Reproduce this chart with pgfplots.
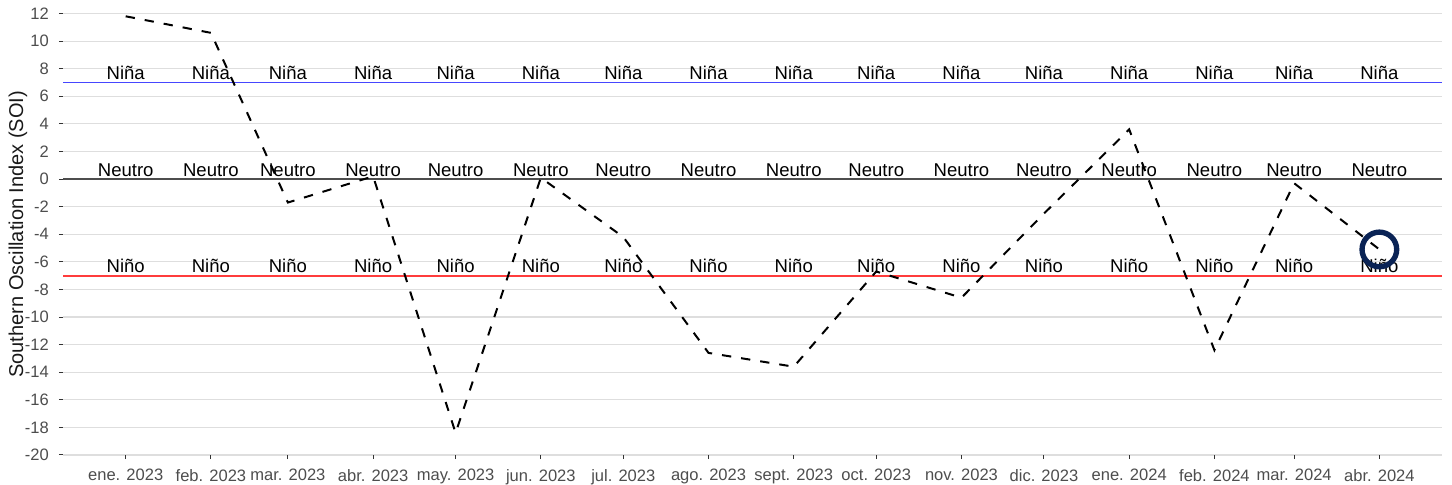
\documentclass[border=0pt]{standalone}
\usepackage{fontspec}
\setmainfont{Liberation Sans}
\usepackage{pgfplots}
\pgfplotsset{compat=1.18}
\definecolor{gridgray}{RGB}{222,222,222}
\definecolor{ninablue}{RGB}{70,70,255}
\definecolor{ninorojo}{RGB}{255,60,60}
\definecolor{zerogray}{RGB}{77,77,77}
\definecolor{ticktext}{RGB}{77,77,77}
\definecolor{navyring}{RGB}{10,35,85}
\begin{document}
\begin{tikzpicture}
\useasboundingbox (0,0) rectangle (1089bp,363.75bp);
\begin{axis}[
  at={(47.25bp,22.5bp)}, anchor=south west,
  scale only axis, width=1034.25bp, height=331.1bp,
  xmin=-22.8, xmax=478.8, ymin=-20, ymax=12,
  axis line style={draw=none},
  tick pos=left, tick align=outside,
  major tick length=3bp,
  tick style={color=black!80, line width=0.75bp},
  xtick={0,31,59,90,120,151,181,212,243,273,304,334,365,396,425,456},
  xticklabels={ene. 2023,feb. 2023,mar. 2023,abr. 2023,may. 2023,jun. 2023,jul. 2023,ago. 2023,sept. 2023,oct. 2023,nov. 2023,dic. 2023,ene. 2024,feb. 2024,mar. 2024,abr. 2024},
  ytick={-20,-18,...,12},
  yticklabels={-20,-18,-16,-14,-12,-10,-8,-6,-4,-2,0,2,4,6,8,10,12},
  xticklabel style={font=\fontsize{12.4bp}{14bp}\selectfont, text=ticktext, anchor=north, inner sep=0pt, yshift=-7.5bp},
  yticklabel style={font=\fontsize{12.4bp}{14bp}\selectfont, text=ticktext, anchor=east, inner sep=0pt, xshift=-7.5bp},
  ymajorgrids, grid style={gridgray, line width=0.9bp},
  every axis y label/.style={at={(axis description cs:-0.0326,0.5)}, rotate=90, anchor=center, font=\fontsize{15bp}{17bp}\selectfont, text=black!90},
  ylabel={Southern Oscillation Index (SOI)},
  clip=false,
]
\pgfplotsset{lab/.style={only marks, mark=none, nodes near coords={#1},
  every node near coord/.style={anchor=base, yshift=2bp, inner sep=0pt, text=black, font=\fontsize{13.9bp}{16bp}\selectfont}}}
\addplot[lab=Niña] coordinates {(0,7) (31,7) (59,7) (90,7) (120,7) (151,7) (181,7) (212,7) (243,7) (273,7) (304,7) (334,7) (365,7) (396,7) (425,7) (456,7)};
\addplot[lab=Neutro] coordinates {(0,0) (31,0) (59,0) (90,0) (120,0) (151,0) (181,0) (212,0) (243,0) (273,0) (304,0) (334,0) (365,0) (396,0) (425,0) (456,0)};
\addplot[lab=Niño] coordinates {(0,-7) (31,-7) (59,-7) (90,-7) (120,-7) (151,-7) (181,-7) (212,-7) (243,-7) (273,-7) (304,-7) (334,-7) (365,-7) (396,-7) (425,-7) (456,-7)};
\addplot[draw=ninablue, line width=1.3bp, mark=none] coordinates {(-22.8,7) (478.8,7)};
\addplot[draw=ninorojo, line width=1.3bp, mark=none] coordinates {(-22.8,-7) (478.8,-7)};
\addplot[draw=zerogray, line width=1.1bp, mark=none] coordinates {(-22.8,0) (478.8,0)};
\addplot[draw=black, line width=1.5bp, mark=none, dash pattern=on 7bp off 7.5bp] coordinates {
 (0,11.8) (31,10.6) (59,-1.7) (90,0.2) (120,-18.4) (151,0.1) (181,-4.2) (212,-12.6)
 (243,-13.6) (273,-6.7) (304,-8.6) (334,-2.5) (365,3.6) (396,-12.4) (425,-0.3) (456,-5.1)};
\addplot[only marks, mark=o, mark size=13bp, mark options={draw=navyring, line width=4bp}] coordinates {(456,-5.1)};
\end{axis}
\end{tikzpicture}
\end{document}
